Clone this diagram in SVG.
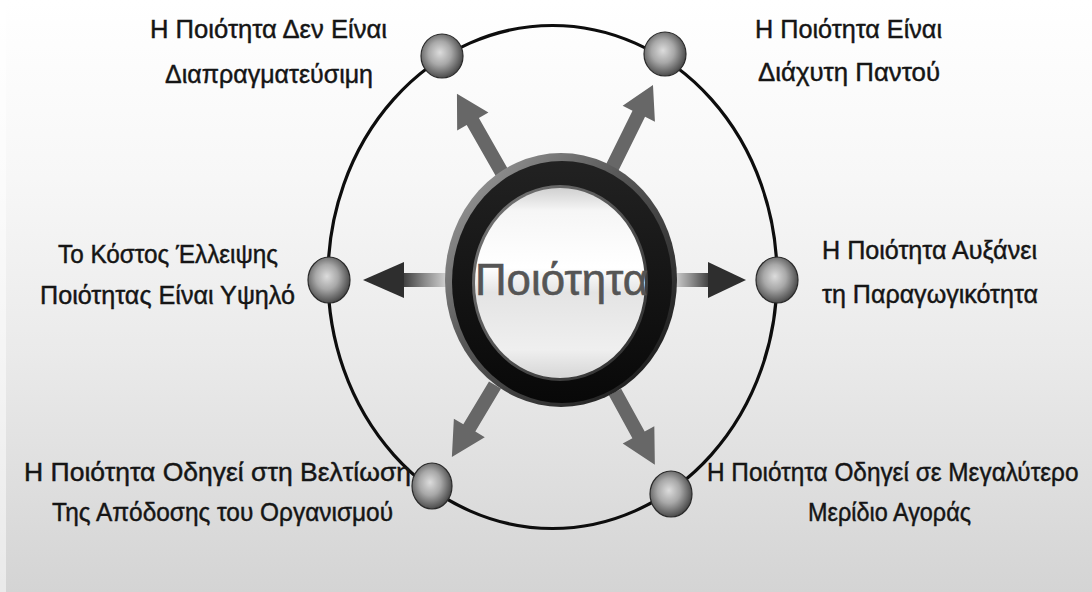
<svg xmlns="http://www.w3.org/2000/svg" width="1092" height="592" viewBox="0 0 1092 592">
  <defs>
    <linearGradient id="bg" x1="0" y1="0" x2="0" y2="1">
      <stop offset="0" stop-color="#ffffff"/>
      <stop offset="0.3" stop-color="#f7f7f7"/>
      <stop offset="0.6" stop-color="#eaeaea"/>
      <stop offset="1" stop-color="#d4d4d4"/>
    </linearGradient>
    <radialGradient id="sphere" cx="0.45" cy="0.45" r="0.6" fx="0.45" fy="0.42">
      <stop offset="0" stop-color="#dcdcdc"/>
      <stop offset="0.45" stop-color="#a8a8a8"/>
      <stop offset="0.85" stop-color="#5a5a5a"/>
      <stop offset="1" stop-color="#3a3a3a"/>
    </radialGradient>
    <linearGradient id="bevel" x1="0" y1="0" x2="1" y2="1">
      <stop offset="0" stop-color="#a8a8a8"/>
      <stop offset="0.4" stop-color="#5a5a5a"/>
      <stop offset="1" stop-color="#101010"/>
    </linearGradient>
    <linearGradient id="blackring" x1="0" y1="0" x2="0" y2="1">
      <stop offset="0" stop-color="#222222"/>
      <stop offset="1" stop-color="#080808"/>
    </linearGradient>
    <linearGradient id="innerEdge" x1="0" y1="0" x2="1" y2="1">
      <stop offset="0" stop-color="#7a7a7a"/>
      <stop offset="1" stop-color="#2a2a2a"/>
    </linearGradient>
    <linearGradient id="glass" x1="0" y1="0" x2="0" y2="1">
      <stop offset="0" stop-color="#d0d0d0"/>
      <stop offset="0.12" stop-color="#f6f6f6"/>
      <stop offset="0.42" stop-color="#ffffff"/>
      <stop offset="0.55" stop-color="#e4e4e4"/>
      <stop offset="0.85" stop-color="#efefef"/>
      <stop offset="1" stop-color="#d6d6d6"/>
    </linearGradient>
    <linearGradient id="shaft" x1="0" y1="0" x2="1" y2="0">
      <stop offset="0" stop-color="#e2e2e2"/>
      <stop offset="0.55" stop-color="#8a8a8a"/>
      <stop offset="1" stop-color="#3a3a3a"/>
    </linearGradient>
    <style>
      .lbl { font-family: "Liberation Sans", Arial, sans-serif; font-size: 26px; fill: #151515; stroke: #151515; stroke-width: 0.45; }
      .orbit { fill: none; stroke: #0d0d0d; stroke-width: 3.2; }
      .node { fill: url(#sphere); stroke: #2a2a2a; stroke-width: 1.2; }
      .darr { fill: #676767; }
      .hhead { fill: #2e2e2e; }
      .hshaft { fill: url(#shaft); }
    </style>
  </defs>

  <rect x="0" y="0" width="1092" height="592" fill="url(#bg)"/>
  <rect x="0" y="0" width="6" height="592" fill="#ffffff" opacity="0.5"/>

  <g id="connectors">
    <ellipse class="orbit" cx="552.5" cy="277" rx="224.5" ry="251.5"/>
    <path class="darr" transform="translate(505,178) rotate(240.3)" d="M0,-7 H65 V-18 L97,0 L65,18 V7 H0 Z"/>
    <path class="darr" transform="translate(610,172) rotate(-63.7)" d="M0,-7 H65 V-18 L97,0 L65,18 V7 H0 Z"/>
    <path class="darr" transform="translate(495,385) rotate(120.9)" d="M0,-7 H50 V-18 L84,0 L50,18 V7 H0 Z"/>
    <path class="darr" transform="translate(615,392) rotate(61.3)" d="M0,-7 H49 V-18 L83,0 L49,18 V7 H0 Z"/>
    <g transform="translate(452,280) rotate(180)">
      <rect class="hshaft" x="0" y="-7" width="50" height="14"/>
      <path class="hhead" d="M48,-18 L89,0 L48,18 Z"/>
    </g>
    <g transform="translate(670,280)">
      <rect class="hshaft" x="0" y="-7" width="40" height="14"/>
      <path class="hhead" d="M38,-18 L76,0 L38,18 Z"/>
    </g>
  </g>

  <g id="center">
    <ellipse cx="561" cy="280" rx="116" ry="127" fill="url(#bevel)"/>
    <ellipse cx="562" cy="282" rx="110" ry="121" fill="url(#blackring)"/>
    <ellipse cx="560" cy="283" rx="88" ry="98" fill="url(#innerEdge)"/>
    <ellipse cx="560" cy="283" rx="85" ry="95" fill="url(#glass)"/>
    <text x="475" y="295" textLength="173" lengthAdjust="spacingAndGlyphs" style="font-family: 'Liberation Sans', Arial, sans-serif; font-size: 45px; fill: #555555; stroke: #555555; stroke-width: 0.6;">Ποιότητα</text>
  </g>

  <g id="node-tl">
    <ellipse class="node" cx="442" cy="56" rx="21" ry="22"/>
    <text class="lbl" x="150" y="38" textLength="237" lengthAdjust="spacingAndGlyphs">Η Ποιότητα Δεν Είναι</text>
    <text class="lbl" x="165" y="83" textLength="208" lengthAdjust="spacingAndGlyphs">Διαπραγματεύσιμη</text>
  </g>

  <g id="node-tr">
    <ellipse class="node" cx="665" cy="54" rx="21" ry="22"/>
    <text class="lbl" x="755" y="38" textLength="187" lengthAdjust="spacingAndGlyphs">Η Ποιότητα Είναι</text>
    <text class="lbl" x="758" y="81" textLength="182" lengthAdjust="spacingAndGlyphs">Διάχυτη Παντού</text>
  </g>

  <g id="node-l">
    <ellipse class="node" cx="329" cy="280" rx="21" ry="23"/>
    <text class="lbl" x="58" y="263" textLength="220" lengthAdjust="spacingAndGlyphs">Το Κόστος Έλλειψης</text>
    <text class="lbl" x="40" y="304" textLength="255" lengthAdjust="spacingAndGlyphs">Ποιότητας Είναι Υψηλό</text>
  </g>

  <g id="node-r">
    <ellipse class="node" cx="777" cy="280" rx="21" ry="23"/>
    <text class="lbl" x="822" y="259" textLength="215" lengthAdjust="spacingAndGlyphs">Η Ποιότητα Αυξάνει</text>
    <text class="lbl" x="822" y="303" textLength="216" lengthAdjust="spacingAndGlyphs">τη Παραγωγικότητα</text>
  </g>

  <g id="node-bl">
    <ellipse class="node" cx="432" cy="486" rx="20" ry="23"/>
    <text class="lbl" x="24" y="481" textLength="387" lengthAdjust="spacingAndGlyphs">Η Ποιότητα Οδηγεί στη Βελτίωση</text>
    <text class="lbl" x="52" y="521" textLength="341" lengthAdjust="spacingAndGlyphs">Της Απόδοσης του Οργανισμού</text>
  </g>

  <g id="node-br">
    <ellipse class="node" cx="671" cy="494" rx="21" ry="23"/>
    <text class="lbl" transform="translate(707,481) scale(0.86,1)" x="0" y="0" textLength="432" lengthAdjust="spacingAndGlyphs">Η Ποιότητα Οδηγεί σε Μεγαλύτερο</text>
    <text class="lbl" x="808" y="521" textLength="163" lengthAdjust="spacingAndGlyphs">Μερίδιο Αγοράς</text>
  </g>
</svg>
